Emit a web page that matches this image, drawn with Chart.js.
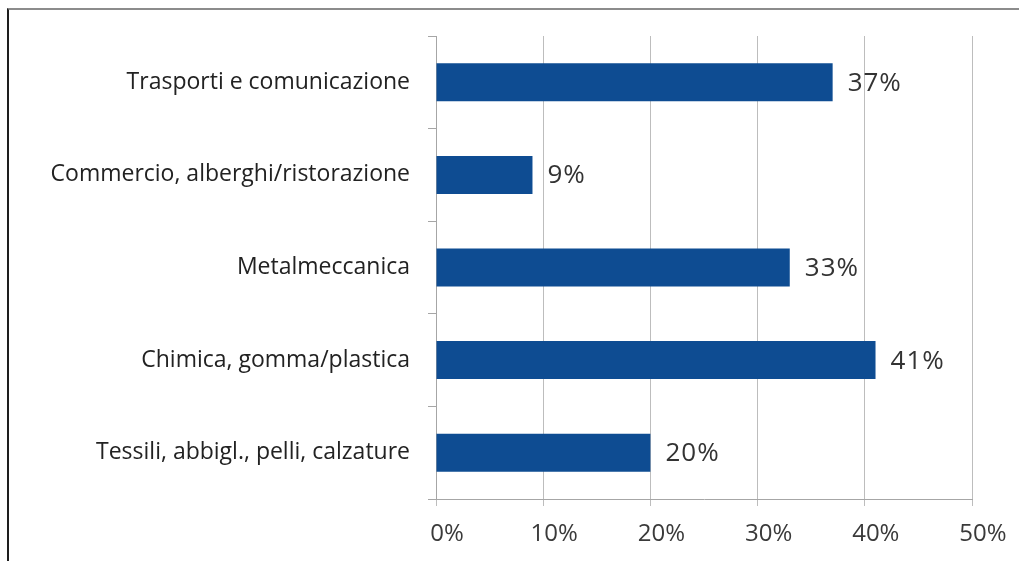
<!DOCTYPE html>
<html>
<head>
<meta charset="utf-8">
<script src="https://cdn.jsdelivr.net/npm/chart.js@4/dist/chart.umd.min.js"></script>
<style>
  html, body { margin: 0; padding: 0; background: #fff; }
  #wrap { position: relative; width: 1019px; height: 561px; overflow: hidden; }
  #frame { position: absolute; left: 7px; top: 8px; right: -4px; bottom: -4px;
           border-top: 2px solid #8c8c8c; border-left: 2px solid #1e1e1e; }
  #c { position: absolute; left: 0; top: 0; }
</style>
</head>
<body>
<div id="wrap">
  <div id="frame"></div>
  <canvas id="c" width="1019" height="561"></canvas>
</div>
<script>
// Sectors and share of firms (%)
const categories = [
  'Trasporti e comunicazione',
  'Commercio, alberghi/ristorazione',
  'Metalmeccanica',
  'Chimica, gomma/plastica',
  'Tessili, abbigl., pelli, calzature'
];
const shares = [37, 9, 33, 41, 20];
const xTicks = [0, 10, 20, 30, 40, 50];

const FONT = '"Open Sans", Lato, sans-serif';

// Writes the percentage just past the end of each bar
const valueLabels = {
  id: 'valueLabels',
  afterDatasetsDraw(chart) {
    const ctx = chart.ctx;
    const meta = chart.getDatasetMeta(0);
    ctx.save();
    ctx.font = '26px ' + FONT;
    if ('letterSpacing' in ctx) ctx.letterSpacing = '1px';
    ctx.fillStyle = '#333333';
    ctx.textAlign = 'left';
    ctx.textBaseline = 'middle';
    meta.data.forEach((bar, i) => {
      ctx.fillText(chart.data.datasets[0].data[i] + '%', bar.x + 15, bar.y + 1);
    });
    ctx.restore();
  }
};

new Chart(document.getElementById('c'), {
  type: 'bar',
  data: {
    labels: categories,
    datasets: [{
      data: shares,
      backgroundColor: '#0E4C92',
      borderWidth: 0,
      categoryPercentage: 1,
      barPercentage: 0.41
    }]
  },
  options: {
    indexAxis: 'y',
    responsive: false,
    animation: false,
    layout: { padding: { top: 36, right: 47, bottom: 0, left: 0 } },
    plugins: {
      legend: { display: false },
      tooltip: { enabled: false },
      title: { display: false }
    },
    scales: {
      x: {
        min: 0,
        max: 50,
        afterBuildTicks(scale) {
          scale.ticks = xTicks.map(v => ({ value: v }));
        },
        afterFit(scale) { scale.height = 62; },
        grid: {
          color: '#bdbdbd',
          lineWidth: 1,
          tickLength: 7,
          drawTicks: true
        },
        border: { display: true, color: '#a6a6a6', width: 1 },
        ticks: {
          callback: v => v + '%',
          color: '#3a3a3a',
          font: { family: FONT, size: 24 },
          padding: 14,
          labelOffset: 11,
          maxRotation: 0,
          autoSkip: false
        }
      },
      y: {
        afterFit(scale) { scale.width = 436; },
        grid: {
          offset: true,
          drawOnChartArea: false,
          drawTicks: true,
          tickLength: 8,
          color: '#a6a6a6'
        },
        border: { display: true, color: '#a6a6a6', width: 1 },
        ticks: {
          color: '#222222',
          font: { family: FONT, size: 23 },
          padding: 18,
          autoSkip: false
        }
      }
    }
  },
  plugins: [valueLabels]
});
</script>
</body>
</html>
